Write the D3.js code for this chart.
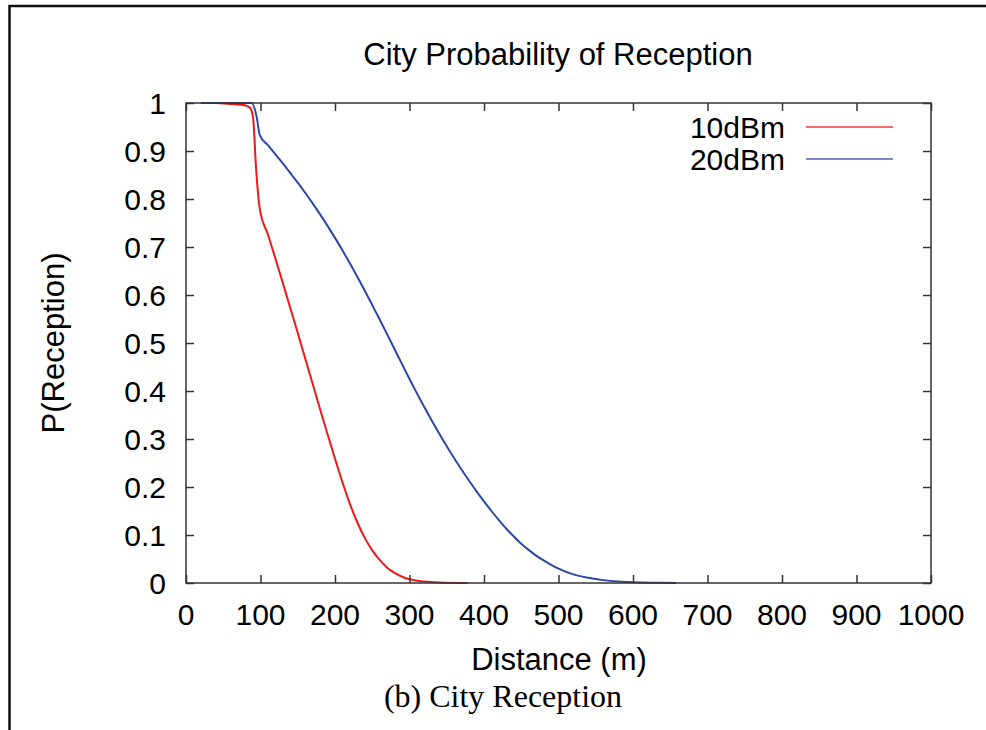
<!DOCTYPE html>
<html>
<head>
<meta charset="utf-8">
<script src="https://cdn.jsdelivr.net/npm/d3@7"></script>
<style>
  html, body { margin: 0; padding: 0; background: #fff; }
  svg { display: block; }
  .sans { font-family: "Liberation Sans", Arial, Helvetica, sans-serif; fill: #000; }
  .serif { font-family: "Liberation Serif", "Times New Roman", serif; fill: #000; }
</style>
</head>
<body>
<script>
// Distance samples (m) and probability of reception for each transmit power
const distance10 = [20, 40, 60, 80, 86, 90, 94, 99, 110, 120, 130, 140, 150, 160, 170, 180, 190, 200, 210, 220, 230, 240, 250, 260, 270, 280, 290, 300, 320, 340, 378];
const p10 = [1, 1, 0.998, 0.995, 0.99, 0.97, 0.865, 0.78, 0.726, 0.676, 0.625, 0.573, 0.521, 0.468, 0.415, 0.362, 0.31, 0.259, 0.21, 0.165, 0.126, 0.094, 0.068, 0.048, 0.032, 0.021, 0.013, 0.008, 0.003, 0.001, 0];

const distance20 = [20, 40, 60, 75, 88, 95, 99, 110, 120, 130, 140, 150, 160, 170, 180, 190, 200, 210, 220, 230, 240, 250, 260, 270, 280, 290, 300, 310, 320, 330, 340, 350, 360, 370, 380, 390, 400, 410, 420, 430, 440, 450, 460, 470, 480, 490, 500, 520, 540, 560, 580, 600, 630, 658];
const p20 = [1, 1, 1, 1, 1, 0.97, 0.933, 0.912, 0.893, 0.874, 0.854, 0.834, 0.813, 0.791, 0.768, 0.744, 0.719, 0.693, 0.666, 0.638, 0.609, 0.579, 0.549, 0.518, 0.487, 0.456, 0.425, 0.395, 0.366, 0.338, 0.311, 0.285, 0.26, 0.236, 0.213, 0.191, 0.17, 0.15, 0.131, 0.113, 0.097, 0.082, 0.069, 0.057, 0.047, 0.038, 0.03, 0.018, 0.011, 0.006, 0.003, 0.0015, 0.0005, 0];

const seriesNames = ["10dBm", "20dBm"];
const seriesColors = ["#f01818", "#2c48a8"];
const xTicks = [0, 100, 200, 300, 400, 500, 600, 700, 800, 900, 1000];
const yTicks = [0, 0.1, 0.2, 0.3, 0.4, 0.5, 0.6, 0.7, 0.8, 0.9, 1];

const W = 986, H = 730;
const plot = { left: 186, right: 931, top: 103, bottom: 583 };

const svg = d3.select("body").append("svg").attr("width", W).attr("height", H);

// outer figure border (left and top edges)
svg.append("path")
  .attr("d", `M9.5,${H} V6 H${W}`)
  .attr("fill", "none").attr("stroke", "#111").attr("stroke-width", 2.5);

const x = d3.scaleLinear().domain([0, 1000]).range([plot.left, plot.right]);
const y = d3.scaleLinear().domain([0, 1]).range([plot.bottom, plot.top]);

const line = d3.line().x(d => x(d[0])).y(d => y(d[1])).curve(d3.curveMonotoneX);

const series = [
  d3.zip(distance10, p10),
  d3.zip(distance20, p20)
];

// curves
series.forEach((s, i) => {
  svg.append("path")
    .datum(s)
    .attr("d", line)
    .attr("fill", "none")
    .attr("stroke", seriesColors[i])
    .attr("stroke-width", 2)
    .attr("stroke-linejoin", "round");
});

// axes with inward ticks on all four sides
const tickLen = 8;
const axisColor = "#333";
const bottomAxis = d3.axisBottom(x).tickValues(xTicks).tickSize(-tickLen).tickFormat("");
const topAxis = d3.axisTop(x).tickValues(xTicks).tickSize(-tickLen).tickFormat("");
const leftAxis = d3.axisLeft(y).tickValues(yTicks).tickSize(-tickLen).tickFormat("");
const rightAxis = d3.axisRight(y).tickValues(yTicks).tickSize(-tickLen).tickFormat("");

function styleAxis(g) {
  g.select(".domain").remove();
  g.selectAll(".tick line").attr("stroke", axisColor).attr("stroke-width", 1.5);
}
svg.append("g").attr("transform", `translate(0,${plot.bottom})`).call(bottomAxis).call(styleAxis);
svg.append("g").attr("transform", `translate(0,${plot.top})`).call(topAxis).call(styleAxis);
svg.append("g").attr("transform", `translate(${plot.left},0)`).call(leftAxis).call(styleAxis);
svg.append("g").attr("transform", `translate(${plot.right},0)`).call(rightAxis).call(styleAxis);

// plot frame
svg.append("rect")
  .attr("x", plot.left).attr("y", plot.top)
  .attr("width", plot.right - plot.left).attr("height", plot.bottom - plot.top)
  .attr("fill", "none").attr("stroke", axisColor).attr("stroke-width", 1.5);

// tick labels
svg.append("g").selectAll("text").data(xTicks).join("text")
  .attr("class", "sans")
  .attr("x", d => x(d)).attr("y", 625)
  .attr("text-anchor", "middle")
  .attr("font-size", 30)
  .text(d => d);

svg.append("g").selectAll("text").data(yTicks).join("text")
  .attr("class", "sans")
  .attr("x", 166).attr("y", d => y(d))
  .attr("dy", "0.36em")
  .attr("text-anchor", "end")
  .attr("font-size", 30)
  .text(d => d3.format("")(+d.toFixed(1)));

// titles
svg.append("text").attr("class", "sans")
  .attr("x", 558).attr("y", 65)
  .attr("text-anchor", "middle").attr("font-size", 31)
  .text("City Probability of Reception");

svg.append("text").attr("class", "sans")
  .attr("x", 559).attr("y", 670)
  .attr("text-anchor", "middle").attr("font-size", 31)
  .text("Distance (m)");

svg.append("text").attr("class", "sans")
  .attr("transform", "translate(64,343) rotate(-90)")
  .attr("text-anchor", "middle").attr("font-size", 31)
  .text("P(Reception)");

svg.append("text").attr("class", "serif")
  .attr("x", 503).attr("y", 707)
  .attr("text-anchor", "middle").attr("font-size", 32)
  .text("(b) City Reception");

// legend
const legend = svg.append("g");
seriesNames.forEach((name, i) => {
  const ly = 127 + i * 32;
  legend.append("text").attr("class", "sans")
    .attr("x", 785).attr("y", ly).attr("dy", "0.35em")
    .attr("text-anchor", "end").attr("font-size", 30)
    .text(name);
  legend.append("line")
    .attr("x1", 806).attr("x2", 893).attr("y1", ly).attr("y2", ly)
    .attr("stroke", seriesColors[i]).attr("stroke-width", 1.4).attr("opacity", 0.85);
});
</script>
</body>
</html>
